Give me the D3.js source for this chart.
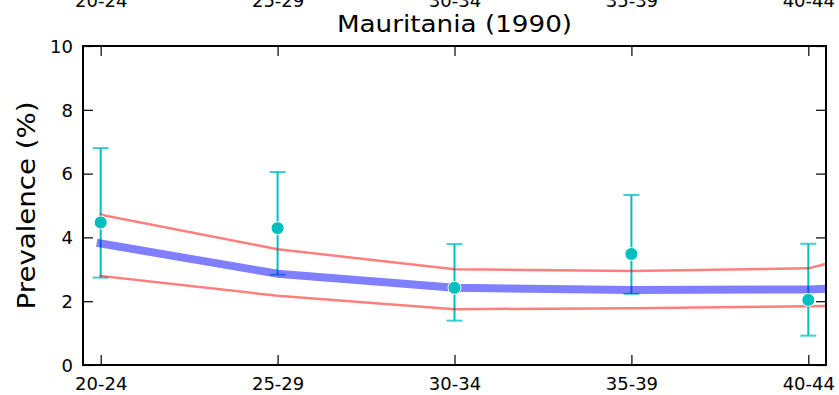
<!DOCTYPE html>
<html>
<head>
<meta charset="utf-8">
<script src="https://cdn.jsdelivr.net/npm/d3@7/dist/d3.min.js"></script>
<style>
html,body{margin:0;padding:0;background:#fff;}
svg{display:block;font-family:"DejaVu Sans",sans-serif;}
</style>
</head>
<body>
<svg id="chart" width="839" height="395"></svg>
<script>
// ---- data ----
const categories = ["20-24", "25-29", "30-34", "35-39", "40-44"];
const yTicks = [0, 2, 4, 6, 8, 10];
const title = "Mauritania (1990)";
const yLabel = "Prevalence (%)";

// model curve (index positions along x, value)
const curveX     = [0, 1, 2, 3, 4, 4.1];
const meanLine   = [3.81, 2.86, 2.42, 2.35, 2.37, 2.39];
const upperLine  = [4.71, 3.63, 3.00, 2.95, 3.03, 3.17];
const lowerLine  = [2.79, 2.17, 1.75, 1.78, 1.84, 1.85];

// observed data with error bars
const obsValue = [4.47, 4.29, 2.42, 3.48, 2.04];
const obsHigh  = [6.80, 6.05, 3.79, 5.33, 3.80];
const obsLow   = [2.74, 2.83, 1.39, 2.23, 0.92];

// ---- layout ----
const svg = d3.select("#chart");
const L = 83, R = 826, T = 46, B = 365;
const x = d3.scaleLinear().domain([-0.1, 4.1]).range([L, R]);
const y = d3.scaleLinear().domain([0, 10]).range([B, T]);

svg.append("defs").append("clipPath").attr("id", "clip")
  .append("rect").attr("x", L).attr("y", T).attr("width", R - L).attr("height", B - T);

const plot = svg.append("g").attr("clip-path", "url(#clip)");

// error bars
const cyan = "#00bfbf";
const eb = plot.append("g");
categories.forEach((c, i) => {
  eb.append("line").attr("x1", x(i)).attr("x2", x(i))
    .attr("y1", y(obsLow[i])).attr("y2", y(obsHigh[i]))
    .attr("stroke", cyan).attr("stroke-width", 2);
  [obsLow[i], obsHigh[i]].forEach(v => {
    eb.append("line").attr("x1", x(i) - 8).attr("x2", x(i) + 8)
      .attr("y1", y(v)).attr("y2", y(v))
      .attr("stroke", cyan).attr("stroke-opacity", 0.75).attr("stroke-width", 2);
  });
});

// lines
const line = d3.line().x(d => x(d[0])).y(d => y(d[1]));
const toPts = arr => curveX.map((cx, i) => [cx, arr[i]]);
plot.append("path").attr("d", line(toPts(upperLine)))
  .attr("fill", "none").attr("stroke", "red").attr("stroke-opacity", 0.5)
  .attr("stroke-width", 2.5).attr("stroke-linecap", "square");
plot.append("path").attr("d", line(toPts(lowerLine)))
  .attr("fill", "none").attr("stroke", "red").attr("stroke-opacity", 0.5)
  .attr("stroke-width", 2.5).attr("stroke-linecap", "square");
plot.append("path").attr("d", line(toPts(meanLine)))
  .attr("fill", "none").attr("stroke", "blue").attr("stroke-opacity", 0.5)
  .attr("stroke-width", 8).attr("stroke-linecap", "square");

// points
svg.append("g").selectAll("circle").data(obsValue).join("circle")
  .attr("cx", (d, i) => x(i)).attr("cy", d => y(d)).attr("r", 6.5)
  .attr("fill", cyan).attr("stroke", "#fff").attr("stroke-width", 1);

// frame
svg.append("rect").attr("x", L).attr("y", T).attr("width", R - L).attr("height", B - T)
  .attr("fill", "none").attr("stroke", "#000").attr("stroke-width", 2);

// axes (inward ticks on all sides)
const fs = "18px";
const xb = svg.append("g").attr("transform", `translate(0,${B})`)
  .call(d3.axisBottom(x).tickValues(d3.range(categories.length)).tickFormat(i => categories[i])
    .tickSizeInner(-10).tickSizeOuter(0).tickPadding(12));
const xt = svg.append("g").attr("transform", `translate(0,${T})`)
  .call(d3.axisTop(x).tickValues(d3.range(categories.length)).tickFormat(i => categories[i])
    .tickSizeInner(-10).tickSizeOuter(0).tickPadding(39));
const yl = svg.append("g").attr("transform", `translate(${L},0)`)
  .call(d3.axisLeft(y).tickValues(yTicks).tickSizeInner(-10).tickSizeOuter(0).tickPadding(10));
const yr = svg.append("g").attr("transform", `translate(${R},0)`)
  .call(d3.axisRight(y).tickValues(yTicks).tickSizeInner(-10).tickSizeOuter(0).tickFormat(""));
[xb, xt, yl, yr].forEach(g => {
  g.attr("font-size", fs).attr("font-family", "DejaVu Sans");
  g.select(".domain").remove();
  g.selectAll(".tick line").attr("stroke", "#000").attr("stroke-width", 1.2);
  g.selectAll("text").attr("fill", "#000");
});
yl.selectAll("text").attr("dy", "0.35em");

// title (slightly widened glyphs as in the reference)
svg.append("text").attr("transform", `translate(${(L + R) / 2},31.5) scale(1.14,1)`)
  .attr("text-anchor", "middle")
  .attr("font-size", "23px").attr("fill", "#000").text(title);

// y label
svg.append("text").attr("transform", `translate(35,${(T + B) / 2}) rotate(-90) scale(1.15,1)`)
  .attr("text-anchor", "middle").attr("font-size", "24px").attr("fill", "#000").text(yLabel);
</script>
</body>
</html>
